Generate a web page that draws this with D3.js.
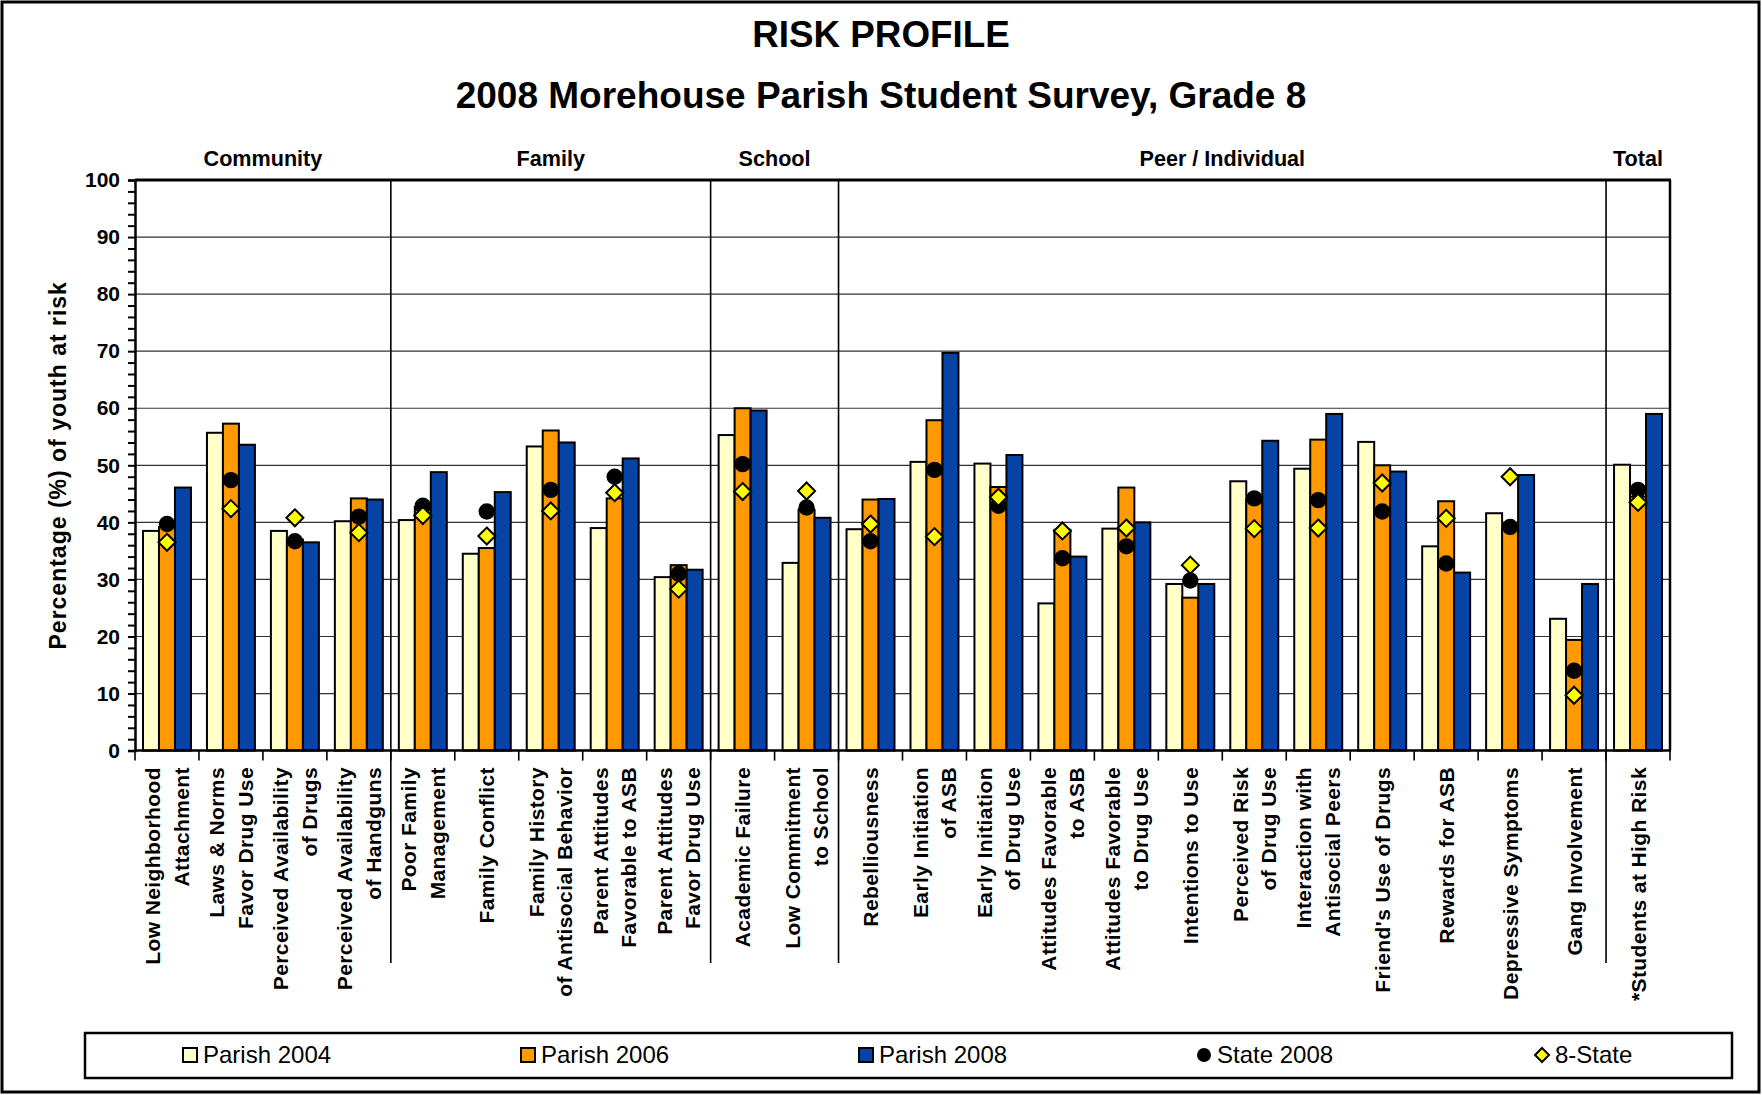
<!DOCTYPE html>
<html>
<head>
<meta charset="utf-8">
<script src="https://d3js.org/d3.v7.min.js"></script>
<style>
  body { margin: 0; background: #fff; }
  text { font-family: "Liberation Sans", Arial, sans-serif; }
</style>
</head>
<body>
<script>
// chart data
var categories = [
  "Low Neighborhood\nAttachment",
  "Laws & Norms\nFavor Drug Use",
  "Perceived Availability\nof Drugs",
  "Perceived Availability\nof Handguns",
  "Poor Family\nManagement",
  "Family Conflict",
  "Family History\nof Antisocial Behavior",
  "Parent Attitudes\nFavorable to ASB",
  "Parent Attitudes\nFavor Drug Use",
  "Academic Failure",
  "Low Commitment\nto School",
  "Rebelliousness",
  "Early Initiation\nof ASB",
  "Early Initiation\nof Drug Use",
  "Attitudes Favorable\nto ASB",
  "Attitudes Favorable\nto Drug Use",
  "Intentions to Use",
  "Perceived Risk\nof Drug Use",
  "Interaction with\nAntisocial Peers",
  "Friend's Use of Drugs",
  "Rewards for ASB",
  "Depressive Symptoms",
  "Gang Involvement",
  "*Students at High Risk"
];
var groupNames = ["Community", "Family", "School", "Peer / Individual", "Total"];
var groupSizes = [4, 5, 2, 12, 1];

var parish2004 = [38.5, 55.7, 38.5, 40.2, 40.4, 34.5, 53.3, 39.0, 30.4, 55.3, 32.9, 38.8, 50.6, 50.3, 25.8, 38.9, 29.2, 47.2, 49.4, 54.1, 35.8, 41.6, 23.1, 50.1];
var parish2006 = [39.2, 57.3, 37.0, 44.2, 42.7, 35.5, 56.1, 44.2, 32.5, 60.0, 42.2, 44.0, 57.9, 46.2, 38.7, 46.1, 26.8, 44.0, 54.5, 50.0, 43.7, 38.9, 19.4, 44.5];
var parish2008 = [46.1, 53.6, 36.5, 44.0, 48.8, 45.3, 54.0, 51.2, 31.7, 59.6, 40.8, 44.1, 69.7, 51.8, 34.0, 40.0, 29.2, 54.3, 59.0, 48.9, 31.2, 48.3, 29.2, 59.0];
var state2008 = [39.7, 47.4, 36.7, 41.0, 42.9, 41.9, 45.7, 48.0, 31.0, 50.2, 42.6, 36.7, 49.2, 42.9, 33.7, 35.8, 29.8, 44.2, 43.9, 41.9, 32.8, 39.2, 14.0, 45.7];
var eightState = [36.5, 42.4, 40.8, 38.2, 41.2, 37.6, 42.0, 45.2, 28.3, 45.4, 45.5, 39.7, 37.5, 44.4, 38.5, 39.0, 32.5, 38.9, 39.0, 46.9, 40.7, 48.0, 9.7, 43.5];

var barSeries = ["Parish 2004", "Parish 2006", "Parish 2008"];
var barColors = ["#FFFFCC", "#FF9900", "#0544A4"];
var legendNames = ["Parish 2004", "Parish 2006", "Parish 2008", "State 2008", "8-State"];
var yTicks = [0, 10, 20, 30, 40, 50, 60, 70, 80, 90, 100];

var W = 1762, H = 1095;
// plot box (names chosen so they don't clash with window.top etc.)
var pLeft = 135, pRight = 1670, pTop = 180, pBottom = 750.6;

var svg = d3.select("body")
  .append("svg")
  .attr("width", W)
  .attr("height", H)
  ;

svg.append("rect")
  .attr("x", 2).attr("y", 2)
  .attr("width", W - 5).attr("height", H - 5)
  .attr("fill", "#fff")
  .attr("stroke", "#000")
  .attr("stroke-width", 3)
  ;

// titles
svg.append("text")
  .attr("x", 881).attr("y", 47)
  .attr("text-anchor", "middle")
  .style("font-size", "36.8px").style("font-weight", "bold")
  .text("RISK PROFILE");
svg.append("text")
  .attr("x", 881).attr("y", 108)
  .attr("text-anchor", "middle")
  .style("font-size", "37px").style("font-weight", "bold")
  .text("2008 Morehouse Parish Student Survey, Grade 8");

// scales
var x = d3.scaleBand().domain(d3.range(categories.length)).range([pLeft, pRight]);
var x1 = d3.scaleBand().domain(barSeries).range([0, x.bandwidth()]).paddingOuter(0.5);
var y = d3.scaleLinear().domain([0, 100]).range([pBottom, pTop]);

// gridlines
svg.append("g")
  .selectAll("line")
  .data(yTicks.filter(function(d){ return d > 0 && d < 100; }))
  .enter()
  .append("line")
  .attr("x1", pLeft).attr("x2", pRight)
  .attr("y1", function(d){ return y(d); })
  .attr("y2", function(d){ return y(d); })
  .attr("stroke", "#333")
  .attr("stroke-width", 1.2)
  ;

// group boundaries
var bounds = [];
var acc = 0;
groupSizes.forEach(function(s, i){
  bounds.push({ name: groupNames[i], start: acc, end: acc + s });
  acc += s;
});

svg.append("g")
  .selectAll("line")
  .data(bounds.slice(1))
  .enter()
  .append("line")
  .attr("x1", function(d){ return x(d.start); })
  .attr("x2", function(d){ return x(d.start); })
  .attr("y1", pTop).attr("y2", 963)
  .attr("stroke", "#000")
  .attr("stroke-width", 1.6)
  ;

svg.append("g")
  .selectAll("text")
  .data(bounds)
  .enter()
  .append("text")
  .attr("x", function(d){ return (x(d.start) + (d.end < categories.length ? x(d.end) : pRight)) / 2; })
  .attr("y", 166)
  .attr("text-anchor", "middle")
  .style("font-size", "21.6px").style("font-weight", "bold")
  .text(function(d){ return d.name; })
  ;

// bars
var barData = [parish2004, parish2006, parish2008];
barData.forEach(function(vals, s){
  svg.append("g")
    .selectAll("rect")
    .data(vals)
    .enter()
    .append("rect")
    .attr("x", function(d, i){ return x(i) + x1(barSeries[s]); })
    .attr("y", function(d){ return y(d); })
    .attr("width", x1.bandwidth())
    .attr("height", function(d){ return y(0) - y(d); })
    .attr("fill", barColors[s])
    .attr("stroke", "#000")
    .attr("stroke-width", 2)
    ;
});

// markers
svg.append("g")
  .selectAll("circle")
  .data(state2008)
  .enter()
  .append("circle")
  .attr("cx", function(d, i){ return x(i) + x.bandwidth() / 2; })
  .attr("cy", function(d){ return y(d); })
  .attr("r", 8.2)
  .attr("fill", "#000")
  ;

var diamond = "M0,-8.5L8.5,0L0,8.5L-8.5,0Z";
svg.append("g")
  .selectAll("path")
  .data(eightState)
  .enter()
  .append("path")
  .attr("d", diamond)
  .attr("transform", function(d, i){ return "translate(" + (x(i) + x.bandwidth() / 2) + "," + y(d) + ")"; })
  .attr("fill", "#FFFF00")
  .attr("stroke", "#000")
  .attr("stroke-width", 2)
  ;

// plot frame
svg.append("line")
  .attr("x1", pLeft).attr("x2", pRight + 1)
  .attr("y1", pTop).attr("y2", pTop)
  .attr("stroke", "#000").attr("stroke-width", 3);
svg.append("line")
  .attr("x1", pRight).attr("x2", pRight)
  .attr("y1", pTop).attr("y2", pBottom)
  .attr("stroke", "#000").attr("stroke-width", 2.5);

// y axis
var yAxis = d3.axisLeft(y)
  .tickValues(d3.range(0, 101, 2))
  .tickSize(7)
  .tickFormat(function(d){ return d % 10 === 0 ? d : ""; })
  ;
var ya = svg.append("g")
  .attr("transform", "translate(" + pLeft + ",0)")
  .call(yAxis);
ya.select(".domain").attr("stroke-width", 2.5);
ya.selectAll(".tick line").attr("stroke-width", 2);
ya.selectAll(".tick text")
  .attr("x", -15)
  .style("font-size", "21px")
  .style("font-weight", "bold")
  .style("font-family", "'Liberation Sans', Arial, sans-serif")
  ;

svg.append("text")
  .attr("transform", "translate(66," + (pTop + pBottom) / 2 + ") rotate(-90)")
  .attr("text-anchor", "middle")
  .style("font-size", "23px").style("font-weight", "bold")
  .style("letter-spacing", "1px")
  .text("Percentage (%) of youth at risk");

// x axis
svg.append("line")
  .attr("x1", pLeft).attr("x2", pRight + 1)
  .attr("y1", pBottom).attr("y2", pBottom)
  .attr("stroke", "#000").attr("stroke-width", 2.5);

svg.append("g")
  .selectAll("line")
  .data(d3.range(categories.length + 1))
  .enter()
  .append("line")
  .attr("x1", function(d){ return d < categories.length ? x(d) : pRight; })
  .attr("x2", function(d){ return d < categories.length ? x(d) : pRight; })
  .attr("y1", pBottom).attr("y2", pBottom + 10)
  .attr("stroke", "#000")
  .attr("stroke-width", 1.6)
  ;

var catLabels = svg.append("g")
  .selectAll("text")
  .data(categories)
  .enter()
  .append("text")
  .attr("transform", function(d, i){
    var lines = d.split("\n");
    var cx = x(i) + x.bandwidth() / 2 + 7.5 - (lines.length - 1) * 14.25;
    return "translate(" + cx + ",767) rotate(-90)";
  })
  .attr("text-anchor", "end")
  .style("font-size", "21px").style("font-weight", "bold")
  .style("letter-spacing", "0.4px")
  ;
catLabels.each(function(d){
  var lines = d.split("\n");
  d3.select(this).selectAll("tspan")
    .data(lines)
    .enter()
    .append("tspan")
    .attr("x", 0)
    .attr("dy", function(l, j){ return j === 0 ? 0 : 28.5; })
    .text(function(l){ return l; });
});

// legend
svg.append("rect")
  .attr("x", 85).attr("y", 1033)
  .attr("width", 1647).attr("height", 45)
  .attr("fill", "#fff")
  .attr("stroke", "#000")
  .attr("stroke-width", 2.5)
  ;

var lx = d3.scalePoint().domain(legendNames).range([183, 1535]);
var leg = svg.append("g")
  .selectAll("g")
  .data(legendNames)
  .enter()
  .append("g")
  .attr("transform", function(d){ return "translate(" + lx(d) + ",1055)"; })
  ;
leg.filter(function(d, i){ return i < 3; })
  .append("rect")
  .attr("x", 0).attr("y", -7)
  .attr("width", 14).attr("height", 14)
  .attr("fill", function(d, i){ return barColors[i]; })
  .attr("stroke", "#000").attr("stroke-width", 2);
leg.filter(function(d){ return d === "State 2008"; })
  .append("circle")
  .attr("cx", 7).attr("cy", 0).attr("r", 7)
  .attr("fill", "#000");
leg.filter(function(d){ return d === "8-State"; })
  .append("path")
  .attr("d", "M7,-7L14,0L7,7L0,0Z")
  .attr("fill", "#FFFF00")
  .attr("stroke", "#000").attr("stroke-width", 2);
leg.append("text")
  .attr("x", 20).attr("y", 8)
  .style("font-size", "24px")
  .text(function(d){ return d; });
</script>
</body>
</html>
